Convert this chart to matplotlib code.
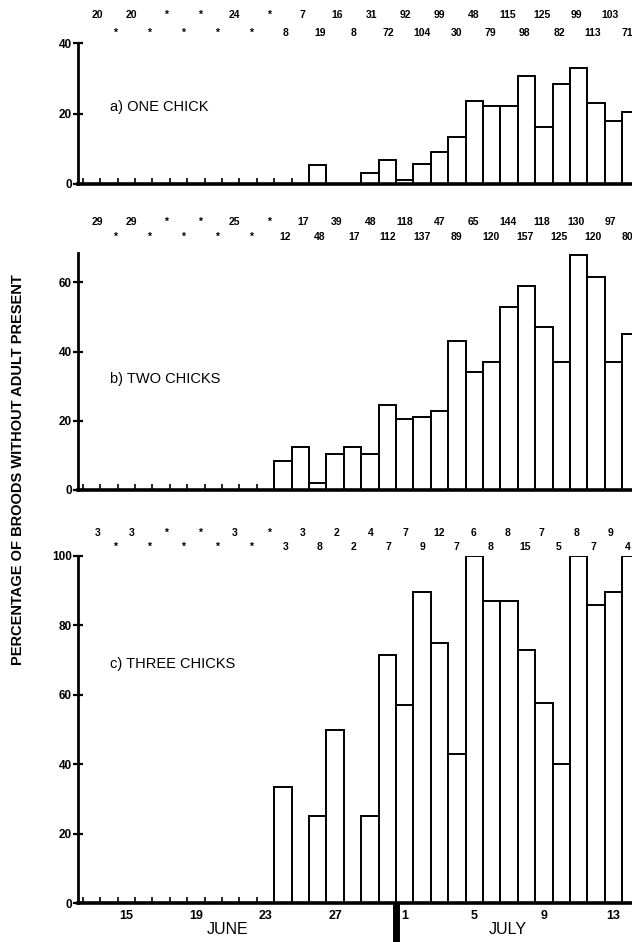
import matplotlib
matplotlib.use("Agg")
import matplotlib.pyplot as plt
import matplotlib.transforms as mtransforms

plt.rcParams['font.family'] = ['Liberation Sans', 'DejaVu Sans']

# ---------------- data ----------------
june_days = [13, 14, 15, 16, 17, 18, 19, 20, 21, 22, 23, 24, 25, 26, 27, 28, 29, 30]
july_days = [1, 2, 3, 4, 5, 6, 7, 8, 9, 10, 11, 12, 13, 14]
day_names = [str(d) for d in june_days] + [str(d) for d in july_days]

tick_days = ["15", "19", "23", "27", "1", "5", "9", "13"]
tick_month = ["JUNE", "JUNE", "JUNE", "JUNE", "JULY", "JULY", "JULY", "JULY"]

# (a) one chick
n_one = ["20", "*", "20", "*", "*", "*", "*", "*", "24", "*", "*", "8", "7", "19", "16", "8",
         "31", "72", "92", "104", "99", "30", "48", "79", "115", "98", "125", "82", "99", "113", "103", "71"]
pct_one = [0, 0, 0, 0, 0, 0, 0, 0, 0, 0, 0, 0, 0, 5.3, 0, 0,
           3.2, 6.9, 1.1, 5.8, 9.1, 13.3, 23.5, 22, 22, 30.5, 16.3, 28.3, 33, 23, 18, 20.3]

# (b) two chicks
n_two = ["29", "*", "29", "*", "*", "*", "*", "*", "25", "*", "*", "12", "17", "48", "39", "17",
         "48", "112", "118", "137", "47", "89", "65", "120", "144", "157", "118", "125", "130", "120", "97", "80"]
pct_two = [0, 0, 0, 0, 0, 0, 0, 0, 0, 0, 0, 8.3, 12.5, 2.1, 10.3, 12.5,
           10.4, 24.5, 20.5, 21.2, 22.7, 43, 34, 37, 53, 59, 47, 37, 68, 61.5, 37, 45]

# (c) three chicks
n_three = ["3", "*", "3", "*", "*", "*", "*", "*", "3", "*", "*", "3", "3", "8", "2", "2",
           "4", "7", "7", "9", "12", "7", "6", "8", "8", "15", "7", "5", "8", "7", "9", "4"]
pct_three = [0, 0, 0, 0, 0, 0, 0, 0, 0, 0, 0, 33.3, 0, 25, 50, 0,
             25, 71.4, 57, 89.5, 75, 43, 100, 87, 87, 73, 57.5, 40, 100, 86, 89.5, 100]

panel_titles = ["a) ONE CHICK", "b) TWO CHICKS", "c) THREE CHICKS"]
panel_ticks = [[0, 20, 40], [0, 20, 40, 60], [0, 20, 40, 60, 80, 100]]
panel_ylim = [40, 68.5, 100]

# ---------------- figure ----------------
W, H = 632, 942
fig = plt.figure(figsize=(W / 100, H / 100), dpi=100)

def fy(px):
    return 1 - px / H

# axes boxes in pixels: (top, bottom)
boxes = [(43, 184), (253, 490), (556, 903)]
label_rows = [(15, 33), (222, 237), (533, 547)]
title_vals = [21.8, 32, 69]

x = list(range(len(day_names)))
xlim = (-0.78, 31.06)
ax_left = 78 / W
ax_w = 1 - ax_left

datasets = [(n_one, pct_one), (n_two, pct_two), (n_three, pct_three)]
axes = []
for k, ((top, bot), (nlist, pct)) in enumerate(zip(boxes, datasets)):
    ax = fig.add_axes([ax_left, fy(bot), ax_w, (bot - top) / H])
    axes.append(ax)
    ax.bar(x, pct, width=1.0, color='white', edgecolor='black', linewidth=1.4, zorder=2)
    ax.set_xlim(*xlim)
    ax.set_ylim(0, panel_ylim[k])
    for s in ['top', 'right']:
        ax.spines[s].set_visible(False)
    ax.spines['left'].set_linewidth(2.0)
    ax.spines['bottom'].set_linewidth(2.6)
    ax.spines['bottom'].set_zorder(3)
    ax.set_yticks(panel_ticks[k])
    ax.set_yticklabels([str(t) for t in panel_ticks[k]], fontsize=8.5, fontweight='bold')
    ax.tick_params(axis='y', direction='inout', length=7, width=1.6, pad=1)

    # small day-boundary ticks where no bars exist yet
    first = next(i for i, v in enumerate(pct) if v > 0)
    minor = [i - 0.5 for i in range(0, first + 1)]
    ax.set_xticks(minor, minor=True)
    ax.tick_params(axis='x', which='minor', direction='in', length=4, width=1.2)

    if k == 2:
        pos = [day_names.index(d, 0 if m == "JUNE" else len(june_days)) for d, m in zip(tick_days, tick_month)]
        ax.set_xticks(pos)
        ax.set_xticklabels(tick_days, fontsize=9, fontweight='bold')
        ax.tick_params(axis='x', which='major', length=0, pad=5)
    else:
        ax.set_xticks([])

    ax.text(1.06, title_vals[k], panel_titles[k], fontsize=10.5, ha='left', va='center')

    # sample-size labels, alternating rows
    tr = mtransforms.blended_transform_factory(ax.transData, fig.transFigure)
    for i, lab in enumerate(nlist):
        ypx = label_rows[k][i % 2]
        ax.text(i + 0.35 - 0.018 * i, fy(ypx), lab, transform=tr, fontsize=7.5, fontweight='bold',
                ha='center', va='center', clip_on=False)

# thick marker between June and July on the bottom panel
axc = axes[2]
trc = mtransforms.blended_transform_factory(axc.transData, axc.transAxes)
bpos = len(june_days) - 0.5
axc.plot([bpos, bpos], [0, -0.13], transform=trc, color='black', lw=5, clip_on=False,
         solid_capstyle='butt')

fig.text(228 / W, fy(930), "JUNE", fontsize=11.5, ha='center', va='center')
fig.text(508 / W, fy(930), "JULY", fontsize=11.5, ha='center', va='center')

fig.text(18 / W, fy(470), "PERCENTAGE OF BROODS WITHOUT ADULT PRESENT", rotation=90,
         fontsize=10.5, fontweight='bold', ha='center', va='center')

fig.savefig("out.png", dpi=100)
